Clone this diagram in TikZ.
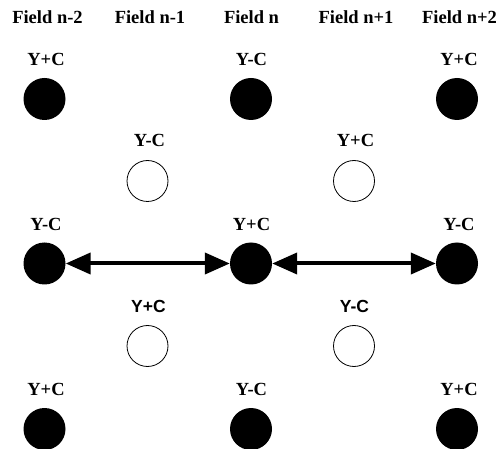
\documentclass[tikz,border=0pt]{standalone}
\usepackage{fontspec}
\setmainfont{Liberation Serif}
\newfontfamily\labelsans{Liberation Sans}
\usetikzlibrary{arrows.meta}
\begin{document}
\begin{tikzpicture}[x=1pt,y=-1pt,
  field/.style={font=\bfseries\fontsize{18.5}{22}\selectfont, inner sep=0pt},
  tag/.style={font=\bfseries\fontsize{18.5}{22}\selectfont, inner sep=0pt},
  sanstag/.style={font=\labelsans\bfseries\fontsize{17.5}{21}\selectfont, inner sep=0pt},
  full/.style={circle, fill=black, minimum size=42pt, inner sep=0pt},
  open/.style={circle, draw=black, line width=0.8pt, minimum size=41pt, inner sep=0pt},
  link/.style={line width=4pt, {Triangle[length=25pt,width=21pt]}-{Triangle[length=25pt,width=21pt]}}
]
\useasboundingbox (0,0) rectangle (501,449);

% column headers
\node[field] (h1) at (47.5,17.5) {Field n-2};
\node[field] (h2) at (150,17.5)  {Field n-1};
\node[field] (h3) at (251.5,17.5) {Field n};
\node[field] (h4) at (356,17.5)  {Field n+1};
\node[field] (h5) at (459.5,17.5) {Field n+2};

% row 1
\node[tag] (l11) at (46,59) {Y+C};
\node[tag] (l13) at (251.5,59) {Y-C};
\node[tag] (l15) at (459,59) {Y+C};
\node[full] (c11) at (44.5,99) {};
\node[full] (c13) at (251,99) {};
\node[full] (c15) at (457,99) {};

% row 2
\node[tag] (l22) at (149.5,140) {Y-C};
\node[tag] (l24) at (355.5,140) {Y+C};
\node[open] (c22) at (147.5,181) {};
\node[open] (c24) at (354,181) {};

% row 3
\node[tag] (l31) at (46,224) {Y-C};
\node[tag] (l33) at (251.5,224) {Y+C};
\node[tag] (l35) at (459,224) {Y-C};
\node[full] (c31) at (44.5,263.5) {};
\node[full] (c33) at (251,263.5) {};
\node[full] (c35) at (457,263.5) {};

% row 4
\node[sanstag] (l42) at (148.5,306) {Y+C};
\node[sanstag] (l44) at (354.5,306) {Y-C};
\node[open] (c42) at (147.5,346) {};
\node[open] (c44) at (354,346) {};

% row 5
\node[tag] (l51) at (46,389) {Y+C};
\node[tag] (l53) at (251.5,389) {Y-C};
\node[tag] (l55) at (459,389) {Y+C};
\node[full] (c51) at (44.5,429) {};
\node[full] (c53) at (251,429) {};
\node[full] (c55) at (457,429) {};

% links between the middle-row fields
\draw[link] (c31) -- (c33);
\draw[link] (c33) -- (c35);
\end{tikzpicture}
\end{document}
